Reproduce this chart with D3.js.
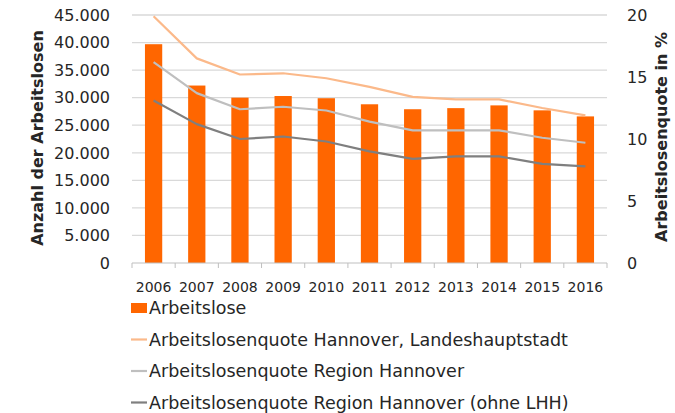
<!DOCTYPE html>
<html><head><meta charset="utf-8">
<script src="https://cdn.jsdelivr.net/npm/d3@7"></script>
<style>body{margin:0;background:#fff}svg{display:block}text{font-family:"DejaVu Sans",sans-serif;fill:#262626}</style>
</head><body><svg id="c" width="675" height="413"></svg>
<script>
const years = ["2006","2007","2008","2009","2010","2011","2012","2013","2014","2015","2016"];
const arbeitslose = [39700,32200,30000,30300,29900,28800,27900,28100,28600,27700,26600];
const quoteLHH = [19.9,16.5,15.2,15.3,14.9,14.2,13.4,13.2,13.2,12.5,11.9];
const quoteRegion = [16.2,13.7,12.4,12.6,12.3,11.4,10.7,10.7,10.7,10.1,9.7];
const quoteOhneLHH = [13.1,11.2,10.0,10.2,9.8,9.0,8.4,8.6,8.6,8.0,7.8];
const leftTicks = [0,5000,10000,15000,20000,25000,30000,35000,40000,45000];
const rightTicks = [0,5,10,15,20];
const legendLabels = ["Arbeitslose","Arbeitslosenquote Hannover, Landeshauptstadt","Arbeitslosenquote Region Hannover","Arbeitslosenquote Region Hannover (ohne LHH)"];
const colors = ["#FF6600","#FBB98A","#BFBFBF","#7F7F7F"];

const svg = d3.select("#c");
const L=132,R=607,T=15,B=263;
const x = d3.scaleBand().domain(years).range([L,R]).paddingInner(0.6).paddingOuter(0.3);
const xb = d3.scaleBand().domain(years).range([L,R]);
const y = d3.scaleLinear().domain([0,45000]).range([B,T]);
const y2 = d3.scaleLinear().domain([0,20]).range([B,T]);
const fmt = d => d3.format(",")(d).replace(/,/g,".");

// gridlines
svg.append("g").selectAll("line").data(leftTicks.filter(d=>d>0)).join("line")
  .attr("x1",L).attr("x2",R).attr("y1",d=>y(d)).attr("y2",d=>y(d))
  .attr("stroke","#D9D9D9").attr("stroke-width",1.3);

// bars
svg.append("g").selectAll("rect").data(arbeitslose).join("rect")
  .attr("x",(d,i)=>x(years[i])).attr("width",x.bandwidth())
  .attr("y",d=>y(d)).attr("height",d=>B-y(d)).attr("fill",colors[0]);

// lines
const series=[quoteLHH,quoteRegion,quoteOhneLHH];
const line=d3.line().x((d,i)=>xb(years[i])+xb.bandwidth()/2).y(d=>y2(d));
series.forEach((s,k)=>{
  svg.append("path").attr("d",line(s)).attr("fill","none").attr("stroke",colors[k+1]).attr("stroke-width",2.2).attr("stroke-linejoin","round");
});

// x axis
const gx=svg.append("g").attr("transform",`translate(0,${B})`);
gx.append("line").attr("x1",L).attr("x2",R).attr("stroke","#BFBFBF").attr("stroke-width",1);
gx.selectAll("line.t").data(years.concat(["end"])).join("line").attr("class","t")
  .attr("x1",(d,i)=>L+i*xb.bandwidth()).attr("x2",(d,i)=>L+i*xb.bandwidth()).attr("y1",0).attr("y2",5)
  .attr("stroke","#BFBFBF");
gx.selectAll("text").data(years).join("text")
  .attr("x",d=>xb(d)+xb.bandwidth()/2).attr("y",29).attr("text-anchor","middle")
  .style("font-size","14px").text(d=>d);

// left axis labels
svg.append("g").selectAll("text").data(leftTicks).join("text")
  .attr("x",110).attr("y",d=>y(d)).attr("dy","0.36em").attr("text-anchor","end")
  .style("font-size","16px").text(fmt);
// right axis labels
svg.append("g").selectAll("text").data(rightTicks).join("text")
  .attr("x",627).attr("y",d=>y2(d)).attr("dy","0.36em").attr("text-anchor","start")
  .style("font-size","16px").text(d=>d);

// axis titles
svg.append("text").attr("transform","translate(43,138) rotate(-90)").attr("text-anchor","middle")
  .style("font-size","16px").style("font-weight","bold").text("Anzahl der Arbeitslosen");
svg.append("text").attr("transform","translate(667,137) rotate(-90)").attr("text-anchor","middle")
  .style("font-size","16px").style("font-weight","bold").text("Arbeitslosenquote in %");

// legend
const lg=svg.append("g");
legendLabels.forEach((t,i)=>{
  const cy=308+i*31.5;
  if(i===0) lg.append("rect").attr("x",131).attr("y",cy-5).attr("width",16).attr("height",10).attr("fill",colors[0]);
  else lg.append("line").attr("x1",131).attr("x2",147).attr("y1",cy).attr("y2",cy).attr("stroke",colors[i]).attr("stroke-width",2.2);
  lg.append("text").attr("x",149).attr("y",cy).attr("dy","0.36em").style("font-size","17.5px").text(t);
});
</script></body></html>
